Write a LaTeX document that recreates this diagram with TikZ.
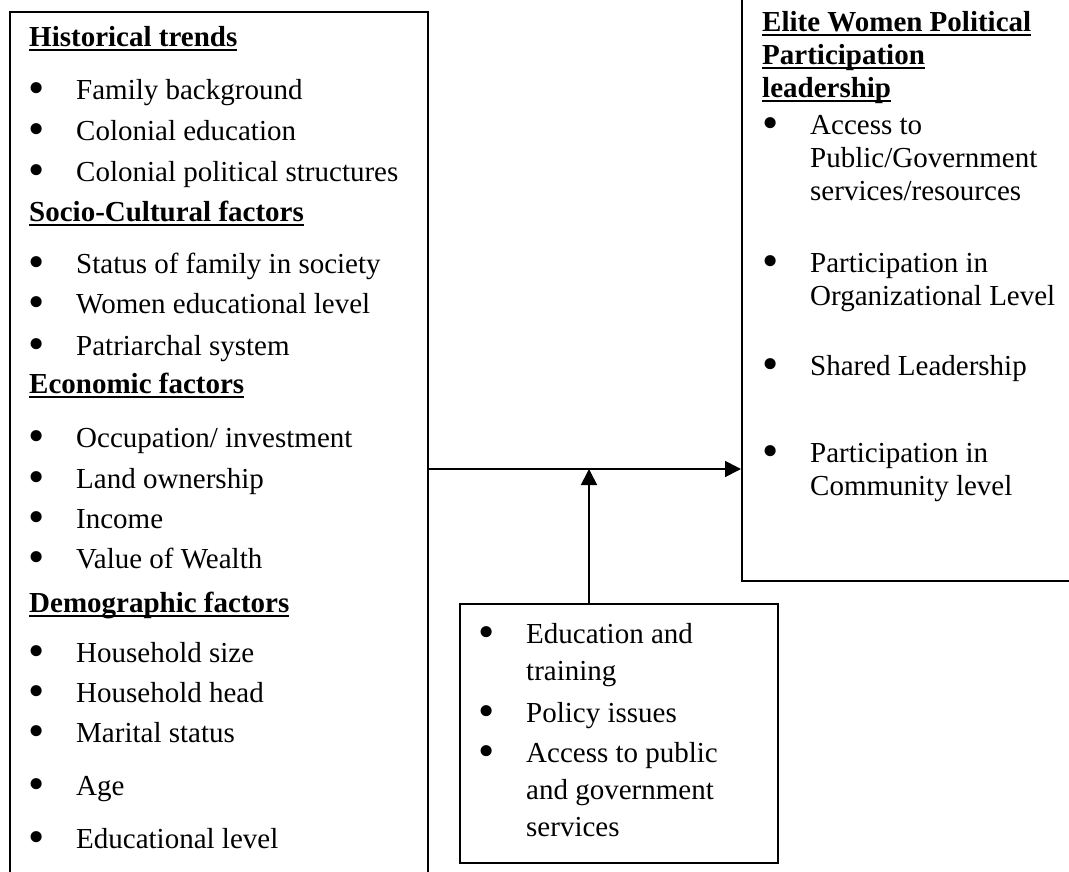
\documentclass[tikz,border=0pt]{standalone}
\usepackage{fontspec}
\setmainfont{Liberation Serif}
\usetikzlibrary{positioning}
\usetikzlibrary{arrows.meta}

% underlined bold heading and bullet item
\newcommand{\hdr}[1]{\setbox0\hbox{\textbf{#1}}\rlap{\rule[-4.5pt]{\wd0}{2pt}}\box0}
\newcommand{\bitem}[1]{\makebox[48pt][l]{\raisebox{-4pt}{\scalebox{1.6}{\textbullet}}}\begin{tabular}[t]{@{}l@{}}#1\end{tabular}}

\begin{document}
\begin{tikzpicture}[x=1pt, y=-1pt,
                frame/.style={rectangle, draw, line width=1.7pt, inner sep=0pt, anchor=north west},
                item/.style={anchor=base west, inner sep=0pt, font=\fontsize{29}{33}\selectfont},
                item_wide/.style={item, font=\fontsize{29}{37}\selectfont},
                head/.style={item},
                flow/.style={line width=1.7pt, -{Triangle[length=16pt, width=16pt]}},
            ]
            \useasboundingbox (0,0) rectangle (1069,872);
            \clip (0,0) rectangle (1069,872);

            % Boxes
            \node[frame, minimum width=418, minimum height=900]   (factors)   at (9,11)     {};
            \node[frame, minimum width=360, minimum height=600]   (elite)     at (741,-20)  {};
            \node[frame, minimum width=318, minimum height=259]   (support)   at (459,603)  {};

            % Left box
            \node[head]   (hist_h)    at (29,47)    {\hdr{Historical trends}};
            \node[item]   (hist_1)    at (28,100)   {\bitem{Family background}};
            \node[item]   (hist_2)    at (28,141)   {\bitem{Colonial education}};
            \node[item]   (hist_3)    at (28,182)   {\bitem{Colonial political structures}};

            \node[head]   (socio_h)   at (29,222)   {\hdr{Socio-Cultural factors}};
            \node[item]   (socio_1)   at (28,273)   {\bitem{Status of family in society}};
            \node[item]   (socio_2)   at (28,313)   {\bitem{Women educational level}};
            \node[item]   (socio_3)   at (28,355)   {\bitem{Patriarchal system}};

            \node[head]   (econ_h)    at (29,393)   {\hdr{Economic factors}};
            \node[item]   (econ_1)    at (28,447)   {\bitem{Occupation/ investment}};
            \node[item]   (econ_2)    at (28,488)   {\bitem{Land ownership}};
            \node[item]   (econ_3)    at (28,528)   {\bitem{Income}};
            \node[item]   (econ_4)    at (28,568)   {\bitem{Value of Wealth}};

            \node[head]   (demo_h)    at (29,612)   {\hdr{Demographic factors}};
            \node[item]   (demo_1)    at (28,662)   {\bitem{Household size}};
            \node[item]   (demo_2)    at (28,702)   {\bitem{Household head}};
            \node[item]   (demo_3)    at (28,742)   {\bitem{Marital status}};
            \node[item]   (demo_4)    at (28,795)   {\bitem{Age}};
            \node[item]   (demo_5)    at (28,848)   {\bitem{Educational level}};

            % Right box
            \node[head]   (elite_h)   at (762,32)   {\begin{tabular}[t]{@{}l@{}}\hdr{Elite Women Political}\\\hdr{Participation}\\\hdr{leadership}\end{tabular}};
            \node[item]   (elite_1)   at (762,135)  {\bitem{Access to\\Public/Government\\services/resources}};
            \node[item]   (elite_2)   at (762,272)  {\bitem{Participation in\\Organizational Level}};
            \node[item]   (elite_3)   at (762,375)  {\bitem{Shared Leadership}};
            \node[item]   (elite_4)   at (762,462)  {\bitem{Participation in\\Community level}};

            % Bottom box
            \node[item_wide]   (supp_1)    at (478,643)  {\bitem{Education and\\training}};
            \node[item_wide]   (supp_2)    at (478,722)  {\bitem{Policy issues}};
            \node[item_wide]   (supp_3)    at (478,762)  {\bitem{Access to public\\and government\\services}};

            %Lines
            \coordinate (join) at (589,469);
            \draw[flow] (factors.east |- join) -- (elite.west |- join);
            \draw[flow] (support.north -| join) -- (join);
        \end{tikzpicture}
\end{document}
